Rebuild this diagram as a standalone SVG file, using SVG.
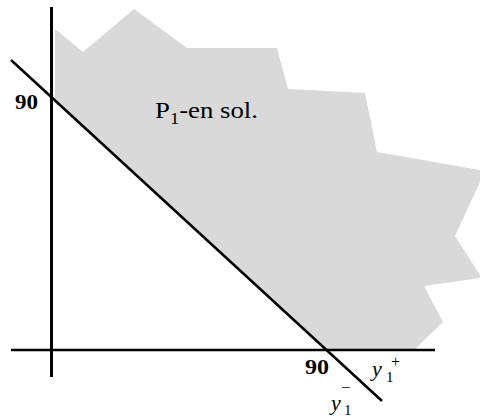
<svg xmlns="http://www.w3.org/2000/svg" width="480" height="417" viewBox="0 0 480 417">
<style>
text{font-family:"Liberation Serif","Times New Roman",serif;fill:#000}
.ax{stroke:#000;fill:none}
</style>
<rect width="480" height="417" fill="#fff"/>
<g id="region">
<polygon fill="#d9d9d9" points="55,29 83,52 134,9 187,48 277,48 288,89 365,93 377,152 480,170 480,182 455,236 480,275 480,278 424,286 443,322 415,349 326,349 55,100"/>
</g>
<g id="connectors">
<line class="ax" x1="51.5" y1="7" x2="51.5" y2="377" stroke-width="3"/>
<line class="ax" x1="11" y1="350" x2="435" y2="350" stroke-width="2.5"/>
<line class="ax" x1="11" y1="60" x2="382" y2="401" stroke-width="2.5"/>
</g>
<g id="labels">
<text x="15" y="109" font-size="22" font-weight="bold" textLength="23" lengthAdjust="spacingAndGlyphs">90</text>
<text x="305" y="374" font-size="21" font-weight="bold" textLength="24" lengthAdjust="spacingAndGlyphs">90</text>
<text x="155" y="118" font-size="23" textLength="103" lengthAdjust="spacingAndGlyphs">P<tspan font-size="16" dy="6">1</tspan><tspan dy="-6">-en sol.</tspan></text>
<text x="372" y="376" font-size="22" font-style="italic">y</text>
<text x="386" y="382" font-size="15">1</text>
<text x="391" y="367" font-size="16">+</text>
<text x="331" y="410" font-size="22" font-style="italic">y</text>
<text x="344" y="415" font-size="15">1</text>
<text x="341" y="393" font-size="17">−</text>
</g>
</svg>
